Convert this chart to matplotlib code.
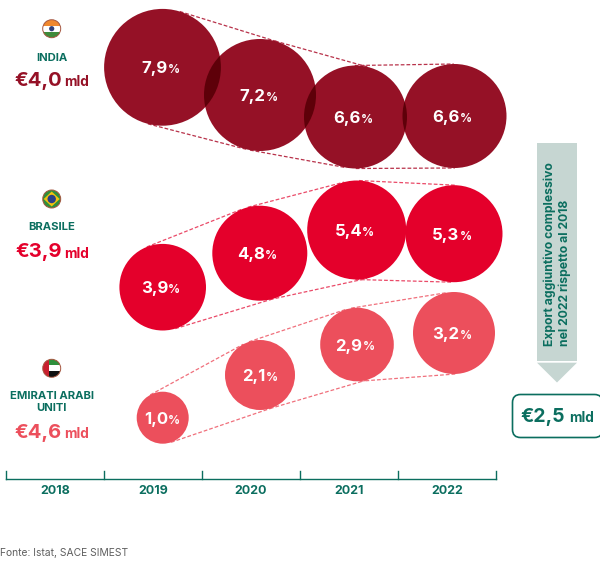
import numpy as np
import matplotlib
matplotlib.use("Agg")
import matplotlib.pyplot as plt
from matplotlib.patches import Circle, Rectangle, Polygon, FancyBboxPatch

plt.rcParams["font.family"] = ["Inter", "DejaVu Sans"]

years = ["2018", "2019", "2020", "2021", "2022"]
countries = ["INDIA", "BRASILE", "EMIRATI ARABI\nUNITI"]
totals = ["€4,0", "€3,9", "€4,6"]

india = [7.9, 7.2, 6.6, 6.6]
brasile = [3.9, 4.8, 5.4, 5.3]
emirati = [1.0, 2.1, 2.9, 3.2]

# layout in pixels
india_xy = [(162.5, 67.3), (260, 95), (355.5, 117), (454.5, 116)]
brasile_xy = [(162.7, 287.2), (259.8, 253.2), (356.7, 230), (454, 233.7)]
emirati_xy = [(162.7, 417.7), (260, 375), (357, 344.5), (454, 333)]
india_r = [58.4, 56, 51.5, 52]
brasile_r = [43.3, 47.5, 49.5, 48.5]
emirati_r = [26, 35, 36.8, 41]

DARK = "#951126"
RED = "#e4002b"
CORAL = "#ec4f5c"
GREEN = "#0b6e5f"
GREY = "#c6d6d2"


def tangents(c1, r1, c2, r2):
    # outer tangent segments between two circles
    c1, c2 = np.array(c1, float), np.array(c2, float)
    d = c2 - c1
    dist = np.hypot(*d)
    base = np.arctan2(d[1], d[0])
    off = np.arccos((r1 - r2) / dist)
    segs = []
    for sign in (1, -1):
        a = base + sign * off
        n = np.array([np.cos(a), np.sin(a)])
        segs.append((c1 + r1 * n, c2 + r2 * n))
    return segs


def draw_series(ax, values, centers, radii, color, line_color, overlap=None):
    for i in range(len(values) - 1):
        for p, q in tangents(centers[i], radii[i], centers[i + 1], radii[i + 1]):
            ax.plot([p[0], q[0]], [p[1], q[1]], color=line_color, lw=0.9,
                    dashes=(3, 1.6), zorder=1)
    circles = []
    for c, r in zip(centers, radii):
        circ = Circle(c, r, fc=color, ec="none", zorder=2)
        ax.add_patch(circ)
        circles.append(circ)
    if overlap:
        for i in range(len(values) - 1):
            lens = Circle(centers[i], radii[i], fc=overlap, ec="none", zorder=3)
            ax.add_patch(lens)
            lens.set_clip_path(circles[i + 1])
    for v, c in zip(values, centers):
        s = f"{v:.1f}".replace(".", ",")
        ax.text(c[0] + 5.5, c[1] + 1.5, s, color="white", fontsize=12, fontweight="bold",
                ha="right", va="center", zorder=4)
        ax.text(c[0] + 5.5, c[1] + 3, "%", color="white", fontsize=8.5, fontweight="bold",
                ha="left", va="center", zorder=4)


def flag(ax, cx, cy, kind):
    r = 9
    clip = Circle((cx, cy), r, fc="white", ec="none", zorder=2)
    ax.add_patch(clip)
    parts = []
    if kind == "in":
        parts.append(Rectangle((cx - r, cy - r), 2 * r, 6, fc="#f0882e", ec="none", zorder=3))
        parts.append(Rectangle((cx - r, cy + 3), 2 * r, 6, fc="#3f8a3a", ec="none", zorder=3))
        parts.append(Circle((cx, cy), 2.6, fc="#33407a", ec="none", zorder=4))
    elif kind == "br":
        parts.append(Rectangle((cx - r, cy - r), 2 * r, 2 * r, fc="#2f8f3c", ec="none", zorder=3))
        parts.append(Polygon([(cx - 8, cy), (cx, cy - 7.5), (cx + 8, cy), (cx, cy + 7.5)],
                             fc="#f4c20d", ec="none", zorder=4))
        parts.append(Circle((cx, cy), 4.2, fc="#2a3f86", ec="none", zorder=5))
    else:
        parts.append(Rectangle((cx - r, cy - r), 6, 2 * r, fc="#c8202f", ec="none", zorder=3))
        parts.append(Rectangle((cx - 3, cy - r), 12, 6, fc="#2f8f3c", ec="none", zorder=3))
        parts.append(Rectangle((cx - 3, cy + 3), 12, 6, fc="#111111", ec="none", zorder=3))
    for p in parts:
        ax.add_patch(p)
        p.set_clip_path(clip)
    ax.add_patch(Circle((cx, cy), r, fc="none", ec="#a5553f", lw=0.7, zorder=6))


fig = plt.figure(figsize=(6.0, 5.65), dpi=100)
ax = fig.add_axes([0, 0, 1, 1])
ax.set_xlim(0, 600)
ax.set_ylim(565, 0)
ax.axis("off")

draw_series(ax, india, india_xy, india_r, DARK, "#b8324a", overlap="#5e0009")
draw_series(ax, brasile, brasile_xy, brasile_r, RED, "#ea4a68")
draw_series(ax, emirati, emirati_xy, emirati_r, CORAL, "#f0707c")

# left labels
label_y = [58, 227, 402]
total_y = [81, 252, 433]
flag_y = [28.7, 199, 368.3]
flag_kind = ["in", "br", "ae"]
total_col = [DARK, RED, CORAL]
for name, tot, ly, ty, fy, k, col in zip(countries, totals, label_y, total_y, flag_y, flag_kind, total_col):
    flag(ax, 51.7, fy, k)
    ax.text(51.7, ly, name, color=GREEN, fontsize=8.1, fontweight="bold",
            ha="center", va="center", linespacing=1.35)
    ax.text(62, ty, tot, color=col, fontsize=14.5, fontweight="bold", ha="right", va="center")
    ax.text(64, ty + 1.5, "mld", color=col, fontsize=9.8, fontweight="bold", ha="left", va="center")

# time axis
ticks = [6, 104, 202, 300, 398, 496]
ax.plot([ticks[0], ticks[-1]], [479, 479], color=GREEN, lw=1, zorder=1)
for x in ticks:
    ax.plot([x, x], [470.5, 479], color=GREEN, lw=1, zorder=1)
for i, y in enumerate(years):
    ax.text((ticks[i] + ticks[i + 1]) / 2, 491.5, y, color=GREEN, fontsize=9,
            fontweight="bold", ha="center", va="center")

# arrow and total box
ax.add_patch(Rectangle((537, 142.7), 40, 218, fc=GREY, ec="none"))
ax.add_patch(Polygon([(537, 362.7), (577, 362.7), (557, 382.5)], fc=GREY, ec="none"))
ax.text(557.5, 346, "Export aggiuntivo complessivo\nnel 2022 rispetto al 2018", color=GREEN,
        fontsize=8.75, fontweight="bold", rotation=90, ha="center", va="bottom",
        multialignment="left", linespacing=1.3)
ax.add_patch(FancyBboxPatch((512.5, 394.5), 90, 43, boxstyle="round,pad=0,rounding_size=8",
                            fc="white", ec=GREEN, lw=1.2))
ax.text(565, 416.5, "€2,5", color=GREEN, fontsize=14, fontweight="bold", ha="right", va="center")
ax.text(569, 418.5, "mld", color=GREEN, fontsize=9.8, fontweight="bold", ha="left", va="center")

ax.text(0, 553, "Fonte: Istat, SACE SIMEST", color="#5f5f5f", fontsize=7.4, ha="left", va="center")

fig.savefig("out.png", dpi=100)
